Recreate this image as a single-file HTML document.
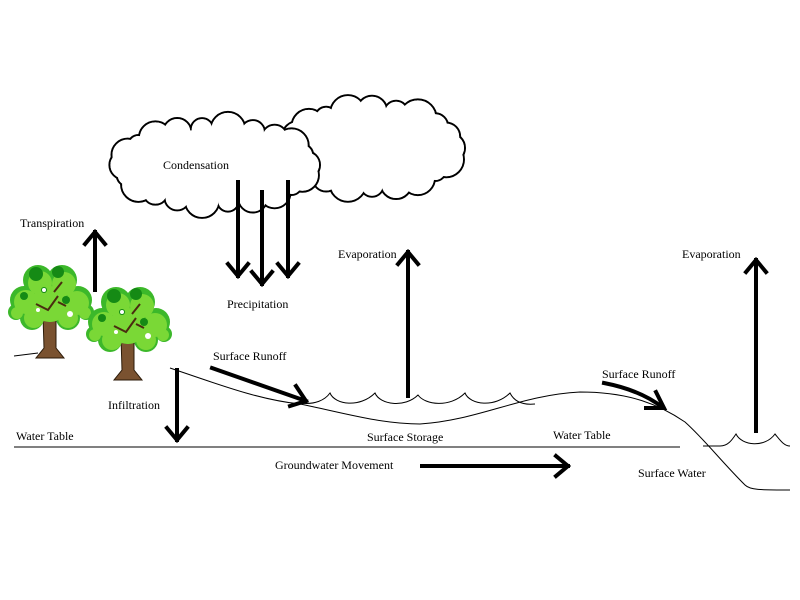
<!DOCTYPE html>
<html><head><style>body{margin:0;background:#fff}svg{display:block}text{font-family:"Liberation Serif",serif;font-size:12px;fill:#000}</style></head><body>
<svg id="s" width="800" height="600" viewBox="0 0 800 600">
<defs>
<g id="tree">
<path d="M-7,15 L-6,48 L-14,58 L14,58 L6,48 L6,15Z" fill="#7a5230" stroke="#2b1a08" stroke-width="1"/>
<g fill="#3cb82a">
<circle cx="-26" cy="0" r="14"/><circle cx="-12" cy="-20" r="15"/><circle cx="12" cy="-20" r="15"/><circle cx="28" cy="0" r="14"/><circle cx="0" cy="2" r="20"/><circle cx="-18" cy="18" r="12"/><circle cx="18" cy="18" r="12"/><circle cx="36" cy="12" r="8"/><circle cx="-34" cy="12" r="8"/>
</g>
<g fill="#7ad836">
<circle cx="-24" cy="2" r="12"/><circle cx="-10" cy="-17" r="12"/><circle cx="14" cy="-16" r="12"/><circle cx="27" cy="3" r="12"/><circle cx="0" cy="4" r="18"/><circle cx="-16" cy="18" r="10"/><circle cx="18" cy="18" r="10"/><circle cx="35" cy="13" r="6"/><circle cx="-33" cy="13" r="6"/>
</g>
<g fill="#158a15"><circle cx="-14" cy="-26" r="7"/><circle cx="8" cy="-28" r="6"/><circle cx="-26" cy="-4" r="4"/><circle cx="16" cy="0" r="4"/><circle cx="-6" cy="-10" r="3"/></g>
<g fill="#fff"><circle cx="-6" cy="-10" r="2"/><circle cx="20" cy="14" r="3"/><circle cx="-12" cy="10" r="2"/></g>
<path d="M-14,4 L-2,10 L8,-4 M4,-8 L12,-18 M8,2 L16,6" stroke="#4a2c10" stroke-width="2" fill="none"/>
</g>
</defs>
<g id="clouds"></g>
<text x="163" y="169">Condensation</text>
<g stroke="#000" stroke-width="4" fill="none" stroke-linecap="square">
<path d="M95,290 V232 M85,244 L95,232 L105,244"/>
<path d="M238,182 V276 M228,264 L238,276 L248,264"/>
<path d="M262,192 V284 M252,272 L262,284 L272,272"/>
<path d="M288,182 V276 M278,264 L288,276 L298,264"/>
<path d="M408,396 V252 M398,264 L408,252 L418,264"/>
<path d="M756,431 V260 M746,272 L756,260 L766,272"/>
<path d="M177,370 V440 M167,428 L177,440 L187,428"/>
<path d="M422,466 H568 M556,456 L568,466 L556,476"/>
<path d="M212,368 L306,401 M296,386 L306,401 L290,406"/>
<path d="M604,383 Q640,390 662,407 M656,392 L664,408 L646,408"/>
</g>
<g stroke="#000" stroke-width="1" fill="none">
<path d="M14,356 L38,353"/>
<path d="M170,368 C220,385 260,400 300,404 C340,412 380,424 420,424 C480,420 520,395 580,392 C630,392 660,405 685,422 C705,440 720,460 745,485 C750,490 760,490 790,490"/>
<path d="M14,447 H680"/>
<path d="M300,403 C315,405 325,400 330,393 C335,405 360,408 375,393 C380,405 405,408 418,395 C425,405 450,408 465,393 C470,405 495,408 510,393 C515,403 525,405 535,404"/>
<path d="M703,446 H720 C728,446 732,440 736,434 C742,446 765,448 775,434 C780,440 784,446 790,446"/>
</g>
<use href="#tree" x="50" y="300"/>
<use href="#tree" x="128" y="322"/>
<text x="20" y="227">Transpiration</text>
<text x="227" y="308">Precipitation</text>
<text x="338" y="258">Evaporation</text>
<text x="682" y="258">Evaporation</text>
<text x="213" y="360">Surface Runoff</text>
<text x="602" y="378">Surface Runoff</text>
<text x="108" y="409">Infiltration</text>
<text x="16" y="440">Water Table</text>
<text x="367" y="441">Surface Storage</text>
<text x="553" y="439">Water Table</text>
<text x="275" y="469">Groundwater Movement</text>
<text x="638" y="477">Surface Water</text>
</svg>
<script>
(function(){
var g=document.getElementById('clouds'),ns='http://www.w3.org/2000/svg';
function cloud(cx,cy,rx,ry,n,r){
 var a=document.createElementNS(ns,'g'),b=document.createElementNS(ns,'g');
 a.setAttribute('stroke','#000');a.setAttribute('stroke-width','2');a.setAttribute('fill','#fff');
 b.setAttribute('fill','#fff');
 for(var i=0;i<n;i++){var t=i/n*2*Math.PI,x=cx+(rx-r)*Math.cos(t),y=cy+(ry-r)*Math.sin(t);
  var rr=r*(1+0.25*Math.sin(i*2.3));
  [a,b].forEach(function(p,k){var c=document.createElementNS(ns,'circle');c.setAttribute('cx',x);c.setAttribute('cy',y);c.setAttribute('r',k?rr-1:rr);p.appendChild(c);});}
 var e=document.createElementNS(ns,'ellipse');e.setAttribute('cx',cx);e.setAttribute('cy',cy);e.setAttribute('rx',rx-r);e.setAttribute('ry',ry-r);b.appendChild(e);
 g.appendChild(a);g.appendChild(b);}
cloud(372,148,93,52,20,15);
cloud(215,165,105,50,22,14);
})();
</script>
</body></html>
